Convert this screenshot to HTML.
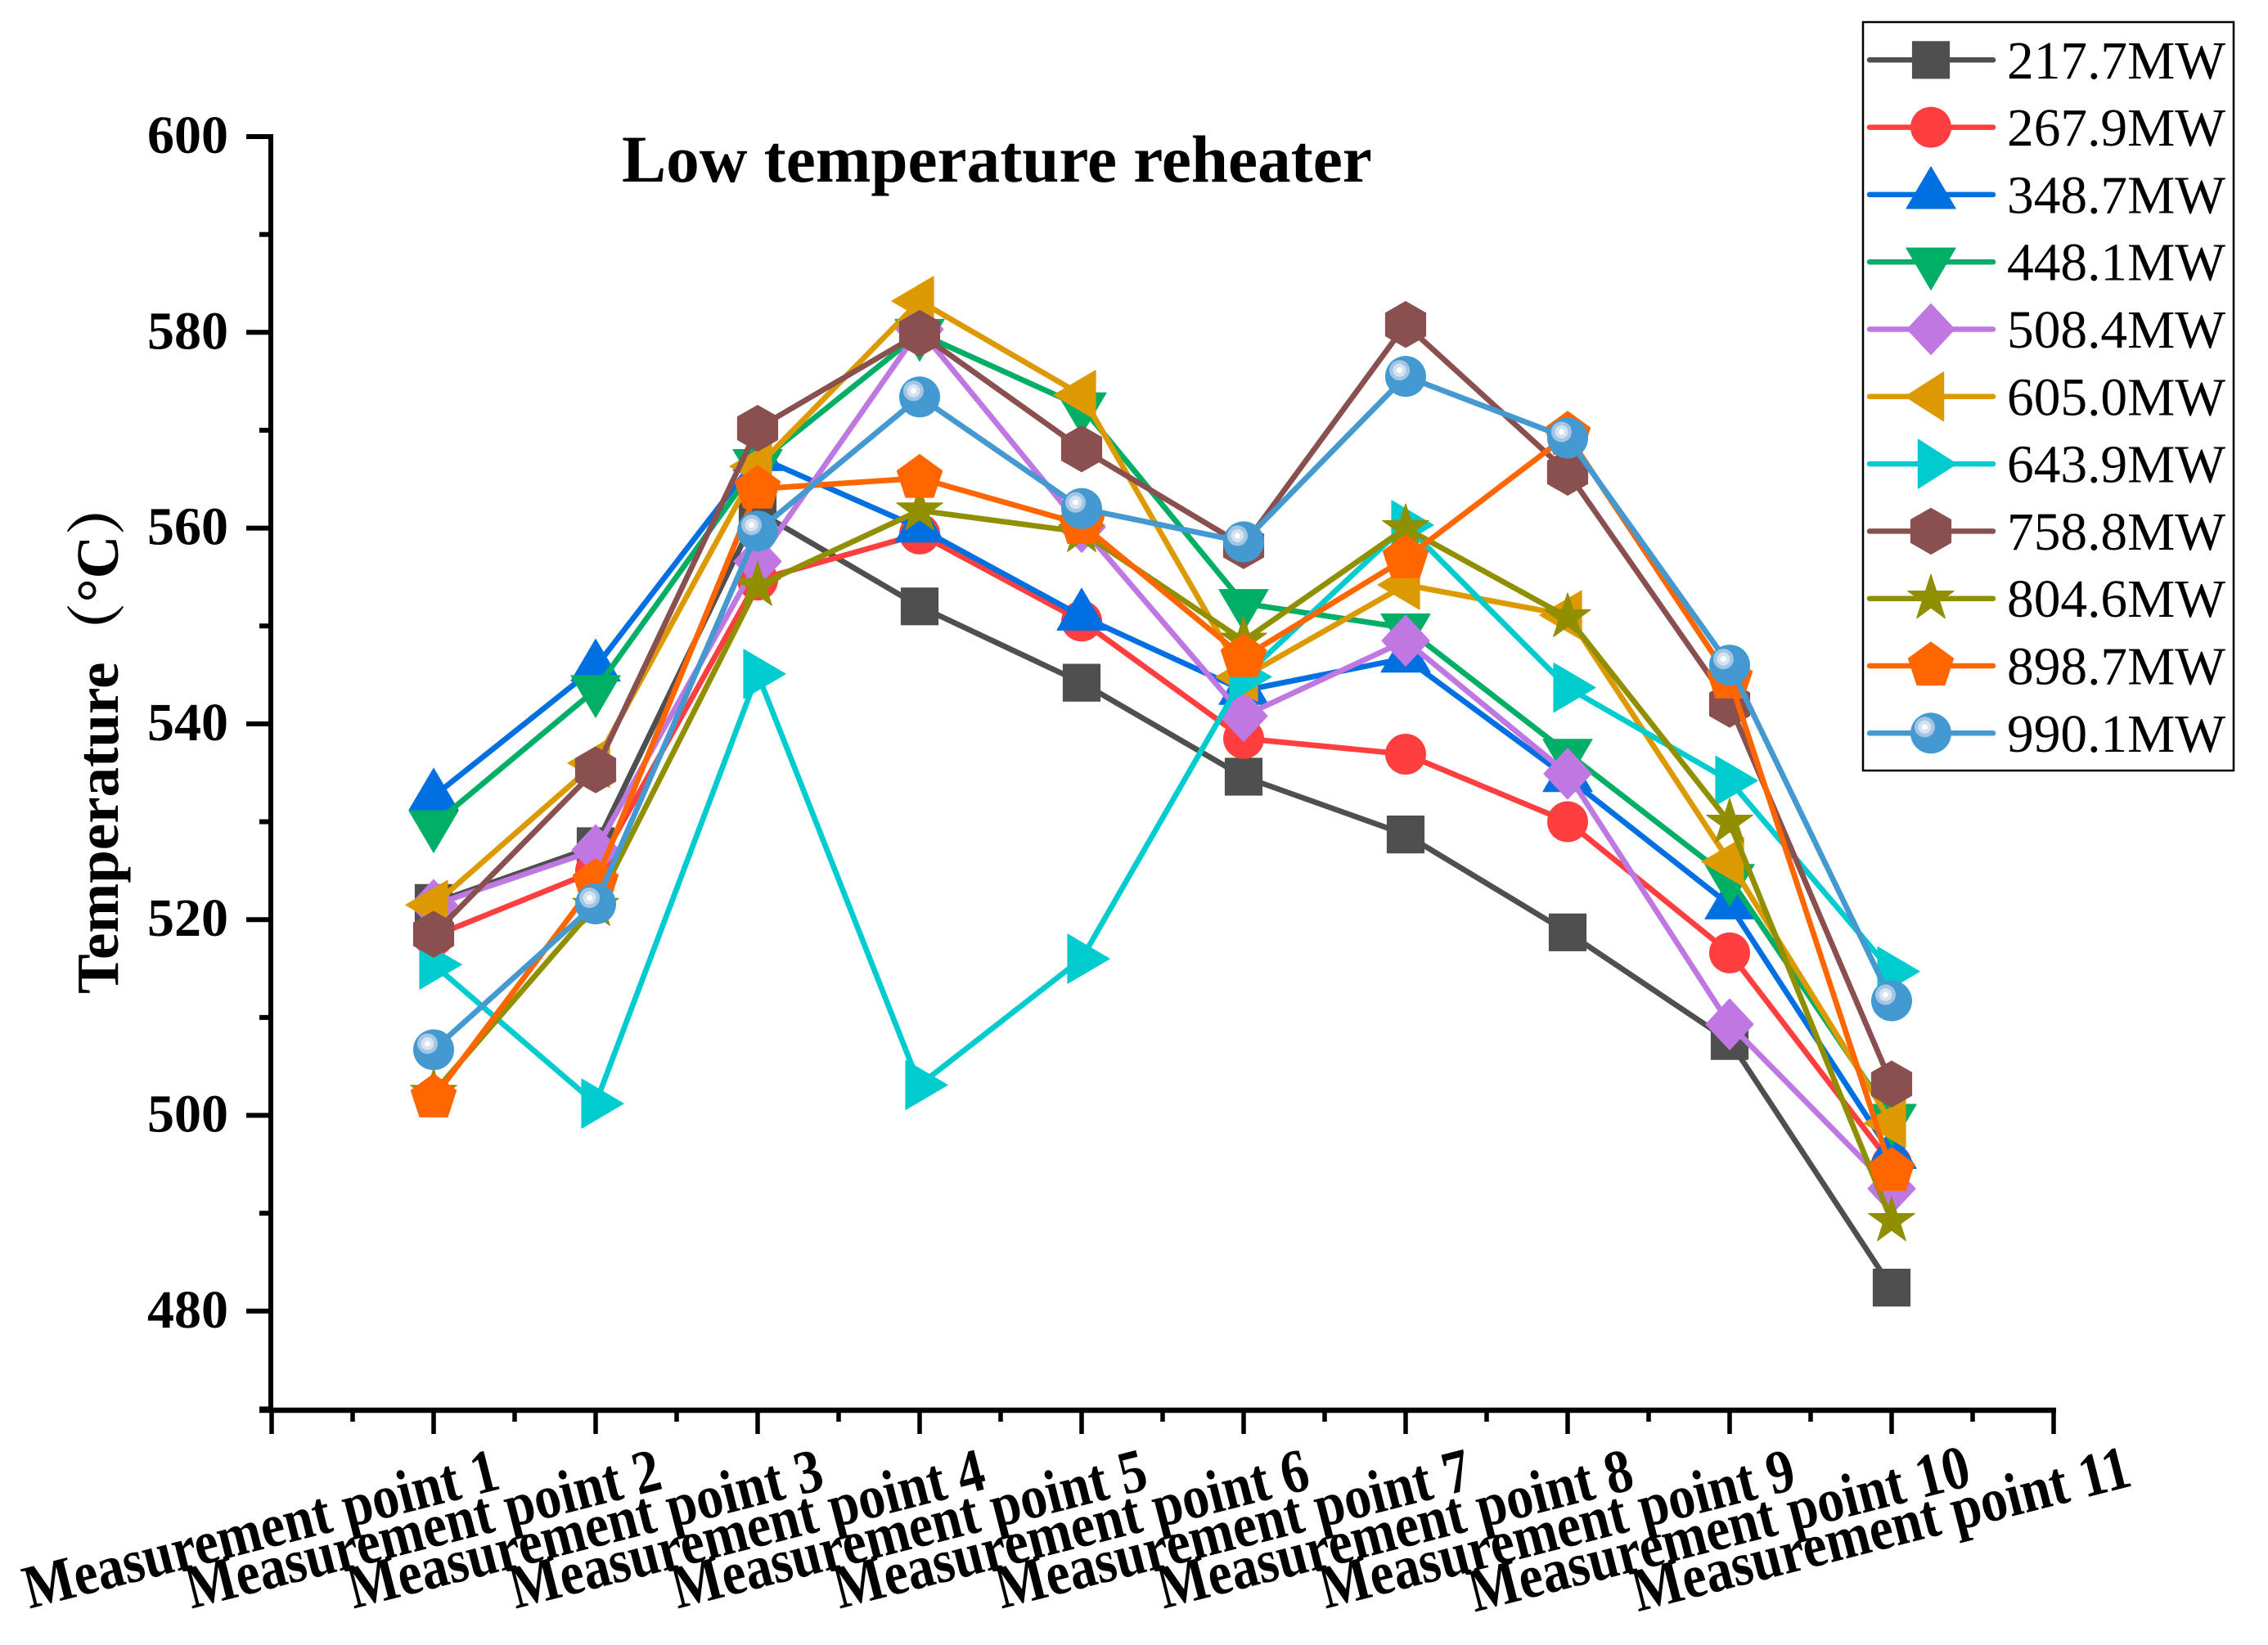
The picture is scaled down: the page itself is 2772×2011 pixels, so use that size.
<!DOCTYPE html>
<html lang="en">
<head>
<meta charset="utf-8">
<title>Low temperature reheater</title>
<style>
  html, body { margin: 0; padding: 0; background: #fff; }
  svg { display: block; }
  text { font-family: "Liberation Serif", "Noto Serif CJK SC", serif; fill: #000; }
</style>
</head>
<body>
<svg id="chart" xmlns="http://www.w3.org/2000/svg" width="2772" height="2011" viewBox="0 0 2772 2011">
  <rect x="0" y="0" width="2772" height="2011" fill="#ffffff"/>
  <text x="760" y="222" font-size="81.2" font-weight="bold">Low temperature reheater</text>
  <text transform="translate(144,1215) rotate(-90)" font-size="73" font-weight="bold">Temperature（°C）</text>
  <g id="axes"></g>
  <g id="series"></g>
  <g id="legend"></g>
</svg>
<script>
// ---- chart data ----
const categories = ["Measurement point 1","Measurement point 2","Measurement point 3","Measurement point 4","Measurement point 5","Measurement point 6","Measurement point 7","Measurement point 8","Measurement point 9","Measurement point 10","Measurement point 11"];
const yTickLabels = [480, 500, 520, 540, 560, 580, 600];
const yMinorTicks = [470, 490, 510, 530, 550, 570, 590];
const seriesNames = ["217.7MW","267.9MW","348.7MW","448.1MW","508.4MW","605.0MW","643.9MW","758.8MW","804.6MW","898.7MW","990.1MW"];
const values217 = [521.7, 527.5, 561.7, 552.0, 544.2, 534.6, 528.7, 518.7, 507.6, 482.4];
const values267 = [518.3, 525.0, 554.7, 559.4, 550.5, 538.5, 536.9, 530.0, 516.6, 495.0];
const values348 = [532.6, 545.8, 567.3, 560.0, 551.0, 543.4, 546.7, 534.5, 521.5, 496.0];
const values448 = [529.7, 543.5, 566.6, 579.9, 572.4, 552.3, 549.8, 537.0, 524.2, 499.7];
const values508 = [521.5, 527.1, 556.6, 580.3, 560.1, 540.8, 548.5, 534.9, 509.3, 492.5];
const values605 = [521.5, 536.0, 566.3, 583.2, 573.6, 544.8, 554.2, 551.1, 525.9, 499.2];
const values643 = [515.4, 501.2, 545.1, 503.1, 516.0, 544.8, 560.3, 543.7, 534.2, 514.7];
const values758 = [518.5, 535.3, 570.2, 579.9, 568.1, 558.2, 580.8, 565.7, 542.0, 503.2];
const values804 = [502.3, 521.4, 554.1, 561.8, 559.6, 548.5, 560.0, 550.9, 529.9, 489.2];
const values898 = [501.8, 523.8, 564.0, 565.1, 560.4, 546.8, 556.9, 569.5, 544.6, 494.3];
const values990 = [506.7, 521.6, 559.7, 573.4, 562.0, 558.6, 575.5, 569.2, 546.0, 511.7];

// ---- series appearance ----
const allValues = [values217, values267, values348, values448, values508, values605, values643, values758, values804, values898, values990];
const seriesColors = ["#4f4f4f","#ff3f3f","#006fe2","#00ae66","#bf78e2","#dc9a00","#00ccd0","#8a4f4f","#8f8f00","#ff6600","#4499d1"];
const seriesShapes = ["square","circle","up","down","diamond","left","right","hexagon","star","pentagon","ball"];

// ---- axis functions ----
function xScale(position) { return 332 + 198 * position; }
function yScale(value) { return 167 + (600 - value) * 11.965; }

const NS = "http://www.w3.org/2000/svg";
function make(tag, attrs, parent) {
  const el = document.createElementNS(NS, tag);
  for (const k in attrs) el.setAttribute(k, attrs[k]);
  parent.appendChild(el);
  return el;
}

function regular(n, r, rot) {
  const pts = [];
  for (let i = 0; i < n; i++) {
    const a = rot + i * 2 * Math.PI / n;
    pts.push([r * Math.cos(a), r * Math.sin(a)]);
  }
  return pts;
}
function starPoints(R, r) {
  const pts = [];
  for (let i = 0; i < 10; i++) {
    const a = -Math.PI / 2 + i * Math.PI / 5;
    const rad = i % 2 === 0 ? R : r;
    pts.push([rad * Math.cos(a), rad * Math.sin(a)]);
  }
  return pts;
}
function shapeOutline(shape, xFactor) {
  switch (shape) {
    case "square": return [[-22.5,-22.5],[22.5,-22.5],[22.5,22.5],[-22.5,22.5]];
    case "up": return [[0,-34],[30,17],[-30,17]];
    case "down": return [[0,34],[30,-17],[-30,-17]];
    case "diamond": return [[0,-31],[29,0],[0,31],[-29,0]];
    case "left": return [[-34 * xFactor,0],[17 * xFactor,-30],[17 * xFactor,30]];
    case "right": return [[34 * xFactor,0],[-17 * xFactor,-30],[-17 * xFactor,30]];
    case "hexagon": return [[0,-28],[24.5,-14],[24.5,14],[0,28],[-24.5,14],[-24.5,-14]];
    case "star": return starPoints(29.5, 11.3);
    case "pentagon": return regular(5, 29, -Math.PI / 2);
  }
  return [];
}
function drawMarker(parent, shape, color, cx, cy, xFactor) {
  if (shape === "circle") {
    make("circle", {cx: cx, cy: cy, r: 25, fill: color}, parent);
  } else if (shape === "ball") {
    make("circle", {cx: cx, cy: cy, r: 25, fill: color}, parent);
    make("circle", {cx: cx - 7.5, cy: cy - 7.5, r: 12.5, fill: "#a4c6e4"}, parent);
    make("circle", {cx: cx - 7.5, cy: cy - 7.5, r: 8, fill: "#d3e3f2"}, parent);
    make("circle", {cx: cx - 7.5, cy: cy - 7.5, r: 3.5, fill: "#ffffff"}, parent);
  } else {
    const pts = shapeOutline(shape, xFactor).map(p => (cx + p[0]).toFixed(1) + "," + (cy + p[1]).toFixed(1)).join(" ");
    make("polygon", {points: pts, fill: color, stroke: color, "stroke-width": 1.2, "stroke-linejoin": "round"}, parent);
  }
}

// ---- axes ----
const axes = document.getElementById("axes");
const yAxisLine = make("line", {x1: 331, y1: 164, x2: 331, y2: 1727, stroke: "#000", "stroke-width": 6}, axes);


const xAxisLine = make("line", {x1: 317, y1: 1724, x2: 2513, y2: 1724, stroke: "#000", "stroke-width": 6.5}, axes);



yTickLabels.forEach(function (v) {
  const tick = make("line", {x1: 301, y1: yScale(v), x2: 331, y2: yScale(v), stroke: "#000", "stroke-width": 6}, axes);
  
  
  const label = make("text", {x: 279, y: yScale(v) + 20, "font-size": 66, "font-weight": "bold", "text-anchor": "end"}, axes);
  label.textContent = String(v);
  
  
});
yMinorTicks.forEach(function (v) {
  const tick = make("line", {x1: 317, y1: yScale(v), x2: 331, y2: yScale(v), stroke: "#000", "stroke-width": 6}, axes);
  
  
});

for (let i = 0; i <= categories.length; i++) {
  const major = make("line", {x1: xScale(i), y1: 1724, x2: xScale(i), y2: 1753, stroke: "#000", "stroke-width": 5.5}, axes);
  
  
  if (i < categories.length) {
    const minor = make("line", {x1: xScale(i + 0.5), y1: 1724, x2: xScale(i + 0.5), y2: 1738, stroke: "#000", "stroke-width": 5.5}, axes);
    
    
  }
}
categories.forEach(function (name, i) {
  const cx = xScale(i + 1) - 205;
  const label = make("text", {transform: "translate(" + cx + ",1893) rotate(-14.3) scale(1,1.15)", "font-size": 65.6, "font-weight": "bold", "text-anchor": "middle"}, axes);
  label.textContent = name;
  
  
});

// ---- series ----
const seriesRoot = document.getElementById("series");
allValues.forEach(function (vals, s) {
  const g = make("g", {}, seriesRoot);
  
  
  const pts = vals.map((v, i) => xScale(i + 1).toFixed(1) + "," + yScale(v).toFixed(1)).join(" ");
  const line = make("polyline", {points: pts, fill: "none", stroke: seriesColors[s], "stroke-width": 6.8, "stroke-linejoin": "round"}, g);
  
  
  vals.forEach(function (v, i) {
    const m = make("g", {}, g);
    
    
    drawMarker(m, seriesShapes[s], seriesColors[s], xScale(i + 1), yScale(v), 1);
  });
});

// ---- legend ----
const legend = document.getElementById("legend");
const legendBox = make("rect", {x: 2277, y: 27, width: 453, height: 915, fill: "#fff", stroke: "#000", "stroke-width": 2.5}, legend);


seriesNames.forEach(function (name, s) {
  const rowY = 73.3 + 82.3 * s;
  const row = make("g", {}, legend);
  
  
  const sample = make("line", {x1: 2285, y1: rowY, x2: 2436, y2: rowY, stroke: seriesColors[s], "stroke-width": 6.5, "stroke-linecap": "round"}, row);
  
  
  const mark = make("g", {}, row);
  
  
  drawMarker(mark, seriesShapes[s], seriesColors[s], 2360, rowY, 0.92);
  const label = make("text", {x: 2453, y: rowY + 22.5, "font-size": 65.4}, row);
  label.textContent = name;
  
  
});
</script>
</body>
</html>
